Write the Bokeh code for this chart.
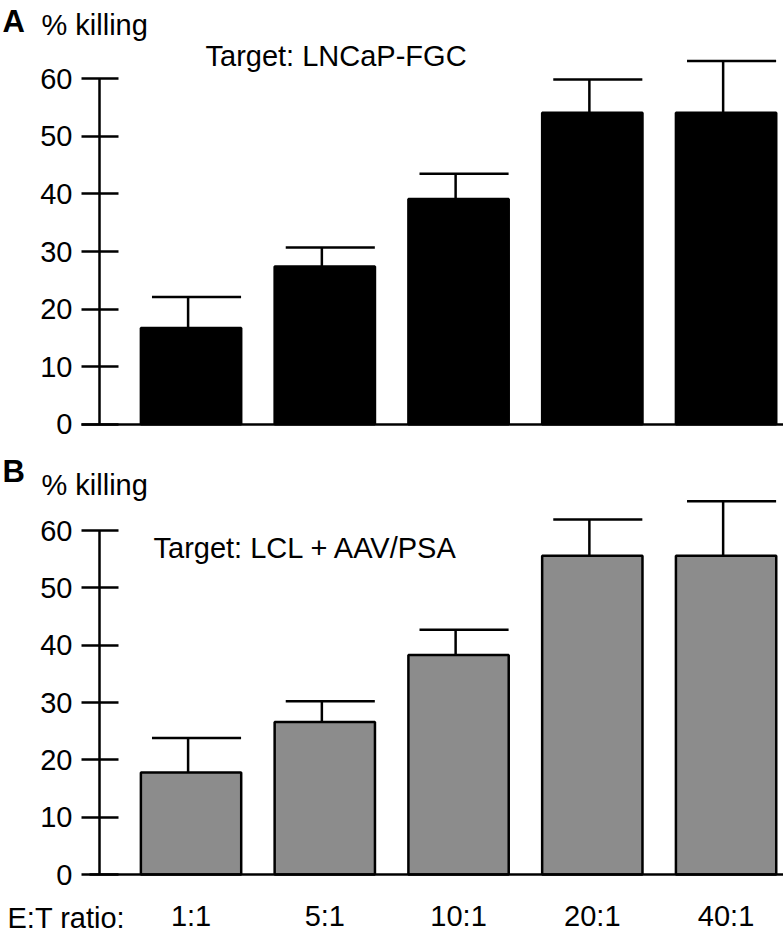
from bokeh.plotting import figure
from bokeh.models import ColumnDataSource, Range1d, FixedTicker, Label
from bokeh.layouts import column
from bokeh.transform import dodge
from bokeh.embed import file_html
from bokeh.resources import INLINE

# ---- data ----
categories = ["1:1", "5:1", "10:1", "20:1", "40:1"]
killing_a = [16.7, 27.4, 39.1, 54.1, 54.1]   # Target: LNCaP-FGC
sd_a = [5.4, 3.3, 4.4, 5.8, 9.0]
killing_b = [17.8, 26.6, 38.3, 55.6, 55.6]   # Target: LCL + AAV/PSA
sd_b = [6.0, 3.6, 4.4, 6.3, 9.5]
y_ticks = [0, 10, 20, 30, 40, 50, 60]

FONT = "Liberation Sans"
FS = "29px"
WIDTH = 783
PX_PER_CAT = 133.76      # horizontal layout: pixels per category step
X0_PX = 190.54           # pixel position of first category centre
AXIS_PX = 99             # pixel position of the y axis line


def px_to_x(px):
    return (px - X0_PX) / PX_PER_CAT


def make_panel(height, y0_px, y60_px, means, sds, fill, show_x, base_from_px):
    ppu = (y0_px - y60_px) / 60.0
    y_top = 60 + y60_px / ppu
    y_bot = -(height - y0_px) / ppu

    p = figure(width=WIDTH, height=height, output_backend="svg", toolbar_location=None,
               x_range=Range1d(px_to_x(0), px_to_x(WIDTH)), y_range=Range1d(y_bot, y_top),
               min_border=0)
    p.outline_line_color = None
    p.grid.visible = False
    p.background_fill_color = None
    p.border_fill_color = None

    src = ColumnDataSource(dict(
        x=list(range(len(categories))),
        cat=categories,
        mean=means,
        upper=[m + s for m, s in zip(means, sds)],
    ))

    # error bars (upper only)
    p.segment(x0=dodge("x", -0.022), y0="mean", x1=dodge("x", -0.022), y1="upper",
              source=src, line_color="black", line_width=2.5)
    p.segment(x0=dodge("x", -0.292), y0="upper", x1=dodge("x", 0.374), y1="upper",
              source=src, line_color="black", line_width=2.5)
    # bars
    p.vbar(x="x", top="mean", bottom=0, width=0.75, source=src,
           fill_color=fill, line_color="black", line_width=2.5)

    yax = p.yaxis[0]
    yax.fixed_location = px_to_x(AXIS_PX)
    yax.bounds = (0, 60)
    yax.ticker = FixedTicker(ticks=y_ticks)
    yax.minor_tick_line_color = None
    yax.axis_line_width = 2.5
    yax.axis_line_color = "black"
    yax.major_tick_line_width = 2.5
    yax.major_tick_line_color = "black"
    yax.major_tick_out = 18
    yax.major_tick_in = 19
    yax.major_label_standoff = 9
    yax.major_label_text_font = FONT
    yax.major_label_text_font_size = FS
    yax.major_label_text_color = "black"

    # x axis drawn as the baseline at y = 0
    xax = p.xaxis[0]
    xax.fixed_location = 0
    xax.bounds = (px_to_x(base_from_px), px_to_x(WIDTH))
    xax.axis_line_width = 2.5
    xax.axis_line_color = "black"
    xax.major_tick_line_color = None
    xax.minor_tick_line_color = None
    xax.major_tick_out = 0
    xax.major_tick_in = 0
    xax.ticker = FixedTicker(ticks=list(range(len(categories))))
    if show_x:
        xax.major_label_overrides = {i: c for i, c in enumerate(categories)}
        xax.major_label_standoff = 25
        xax.major_label_text_font = FONT
        xax.major_label_text_font_size = FS
        xax.major_label_text_color = "black"
    else:
        xax.major_label_text_font_size = "0px"
        xax.major_label_text_color = None
    return p


# Panel A: page y 0..448 ; y=0 at 423.7, y=60 at 78.3
pA = make_panel(448, 423.7, 78.3, killing_a, sd_a, "black", False, 81)
# Panel B: page y 448..936 ; y=0 at page 874, y=60 at page 530
pB = make_panel(488, 874 - 448, 530 - 448, killing_b, sd_b, "#8c8c8c", True, 89)


def lab(p, fig_h, text, x_px, base_px, size=FS, bold=False):
    # x_px, base_px: pixel position within the figure (from its top-left)
    p.add_layout(Label(x=x_px, y=fig_h - base_px, x_units="screen", y_units="screen",
                       text=text, text_font=FONT, text_font_size=size,
                       text_font_style="bold" if bold else "normal",
                       text_color="black", text_baseline="alphabetic", text_align="left"))


lab(pA, 448, "A", 2, 21, size="31px", bold=True)
lab(pA, 448, "% killing", 41, 24)
lab(pA, 448, "Target: LNCaP-FGC", 205, 55)
lab(pB, 488, "B", 2, 480 - 448 - 9, size="31px", bold=True)
lab(pB, 488, "% killing", 41, 494 - 448 - 10)
lab(pB, 488, "Target: LCL + AAV/PSA", 153, 557 - 448 - 10)
lab(pB, 488, "E:T ratio:", 7, 927 - 448 - 10)

layout = column(pA, pB, spacing=0)
open("out.html", "w").write(file_html(layout, INLINE))
